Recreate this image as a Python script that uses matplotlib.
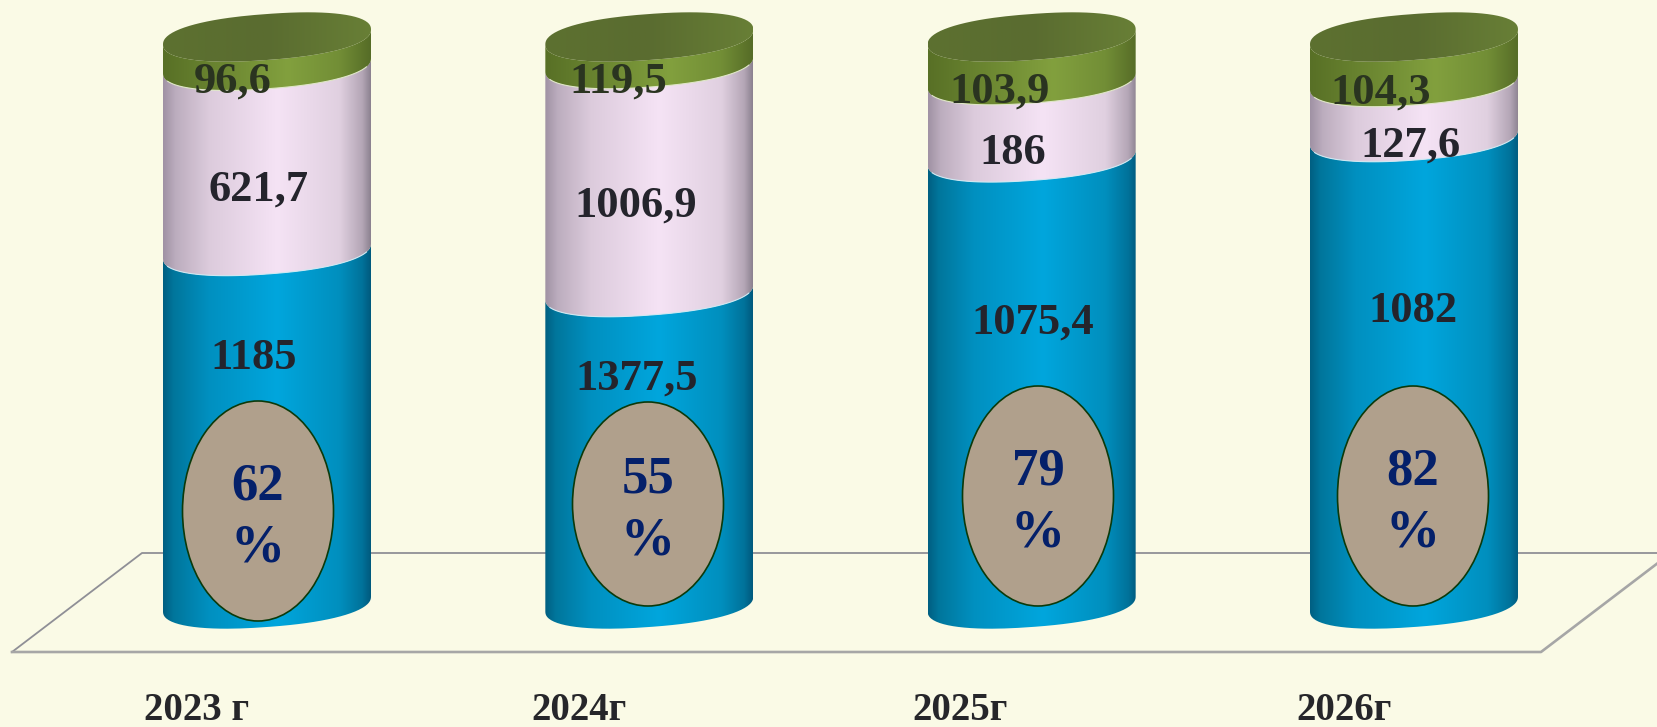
import numpy as np
import matplotlib.pyplot as plt
from matplotlib.colors import LinearSegmentedColormap
from matplotlib.patches import Ellipse, PathPatch
from matplotlib.path import Path

years = ["2023 г", "2024г", "2025г", "2026г"]
blue_vals = [1185, 1377.5, 1075.4, 1082]
pink_vals = [621.7, 1006.9, 186, 127.6]
green_vals = [96.6, 119.5, 103.9, 104.3]
percents = ["62", "55", "79", "82"]

blue_text = ["1185", "1377,5", "1075,4", "1082"]
pink_text = ["621,7", "1006,9", "186", "127,6"]
green_text = ["96,6", "119,5", "103,9", "104,3"]

# where the labels sit, in pixels of the 1658x727 picture
blue_xy = [(254, 354), (637, 375), (1033, 319), (1413, 307)]
pink_xy = [(259, 186), (636, 202), (1013, 149), (1410, 142)]
green_xy = [(233, 78), (618, 78), (1000, 88), (1381, 89)]
oval_xy = [(258, 511), (648, 504), (1038, 496), (1413, 496)]
oval_h = [220, 204, 220, 220]
year_xy = [(197, 707), (579, 707), (960, 707), (1344, 707)]

BG = "#fafae6"
W, H = 1658, 727
X0, DX = 267, 382.33
Y0, DY = 604, 567

half_w = 104 / DX
half_h = 23 / DY
skew = 7.5 / DY


def px(x, y):
    return (x - X0) / DX, (Y0 - y) / DY


def shade(stops):
    return LinearSegmentedColormap.from_list("c", stops)


blue_map = shade([(0, "#005f82"), (0.05, "#00769c"), (0.22, "#0090c0"), (0.55, "#00a6dd"),
                  (0.85, "#008fbe"), (0.96, "#00729a"), (1, "#005a7e")])
pink_map = shade([(0, "#a092a4"), (0.06, "#bcadbe"), (0.22, "#dccbdc"), (0.55, "#f5e3f5"),
                  (0.85, "#e0d0e0"), (0.96, "#b4a6b6"), (1, "#8c8290")])
green_map = shade([(0, "#587026"), (0.2, "#66802e"), (0.6, "#82a03e"), (0.85, "#728e36"), (1, "#566c27")])
cap_map = shade([(0, "#5d7130"), (0.5, "#5a6c30"), (1, "#687f36")])


# a bit blunter than a true ellipse, then sheared so the right side is higher
def outline(c, f, t):
    u = np.sign(np.cos(t)) * np.abs(np.cos(t)) ** 0.88
    v = np.sign(np.sin(t)) * np.abs(np.sin(t)) ** 0.88
    return c + half_w * u, f + skew * u + half_h * v


def front_arc(c, f):
    return outline(c, f, np.linspace(0, -np.pi, 80))


def fill_gradient(ax, xs, ys, cmap, z):
    patch = PathPatch(Path(np.column_stack([xs, ys])), fc="none", ec="none", zorder=z)
    ax.add_patch(patch)
    grad = np.linspace(0, 1, 256).reshape(1, -1)
    im = ax.imshow(grad, cmap=cmap, aspect="auto", zorder=z,
                   extent=(xs.min(), xs.max(), ys.min(), ys.max()))
    im.set_clip_path(patch)


def band(ax, c, f0, f1, cmap, z):
    x0, y0 = front_arc(c, f0)
    x1, y1 = front_arc(c, f1)
    fill_gradient(ax, np.r_[x0, x1[::-1]], np.r_[y0, y1[::-1]], cmap, z)


def label(ax, xy, txt, size, color, z):
    # xy is the middle of the digits, so go down half a digit to the baseline
    x, y = px(xy[0], xy[1] + size * 0.47)
    ax.text(x, y, txt, family="Liberation Serif", weight="bold", size=size,
            color=color, ha="center", va="baseline", zorder=z)


fig = plt.figure(figsize=(W / 100, H / 100), dpi=100, facecolor=BG)
ax = fig.add_axes([0, 0, 1, 1])
ax.set_facecolor(BG)

# floor of the chart
fl, bl = px(12, 652), px(142, 553)
fr, br = px(1541, 652), px(1671, 553)
ax.plot([fl[0], bl[0], br[0]], [fl[1], bl[1], br[1]], color="#8f8f96", lw=1.3, zorder=1)
ax.plot([fl[0], fr[0], br[0]], [fl[1], fr[1], br[1]], color="#a6a6a6", lw=1.9, zorder=1)

for i in range(len(years)):
    total = blue_vals[i] + pink_vals[i] + green_vals[i]
    f1 = blue_vals[i] / total
    f2 = (blue_vals[i] + pink_vals[i]) / total

    band(ax, i, 0, f1, blue_map, 2)
    band(ax, i, f1, f2, pink_map, 2)
    band(ax, i, f2, 1, green_map, 2)

    cap_x, cap_y = outline(i, 1, np.linspace(0, 2 * np.pi, 160))
    fill_gradient(ax, cap_x, cap_y, cap_map, 3)

    for f, col in [(f1, "#cfe8f2"), (f2, "#dfe6c8")]:
        xa, ya = front_arc(i, f)
        ax.plot(xa[8:-8], ya[8:-8], color=col, lw=0.8, zorder=3)

    label(ax, blue_xy[i], blue_text[i], 32, "#24242c", 5)
    label(ax, pink_xy[i], pink_text[i], 32, "#24242c", 5)
    label(ax, green_xy[i], green_text[i], 32, "#2a3420", 5)

    ax.add_patch(Ellipse(px(*oval_xy[i]), 151 / DX, oval_h[i] / DY,
                         fc="#b0a08c", ec="#0b3a0b", lw=1.2, zorder=6))
    label(ax, (oval_xy[i][0], oval_xy[i][1] - 29), percents[i], 38, "#04206a", 7)
    label(ax, (oval_xy[i][0], oval_xy[i][1] + 32), "%", 39, "#04206a", 7)

    label(ax, year_xy[i], years[i], 28, "#26262a", 5)

ax.set_xlim(px(0, 0)[0], px(W, 0)[0])
ax.set_ylim(px(0, H)[1], px(0, 0)[1])
ax.axis("off")

fig.savefig("out.png", dpi=100, facecolor=BG)
